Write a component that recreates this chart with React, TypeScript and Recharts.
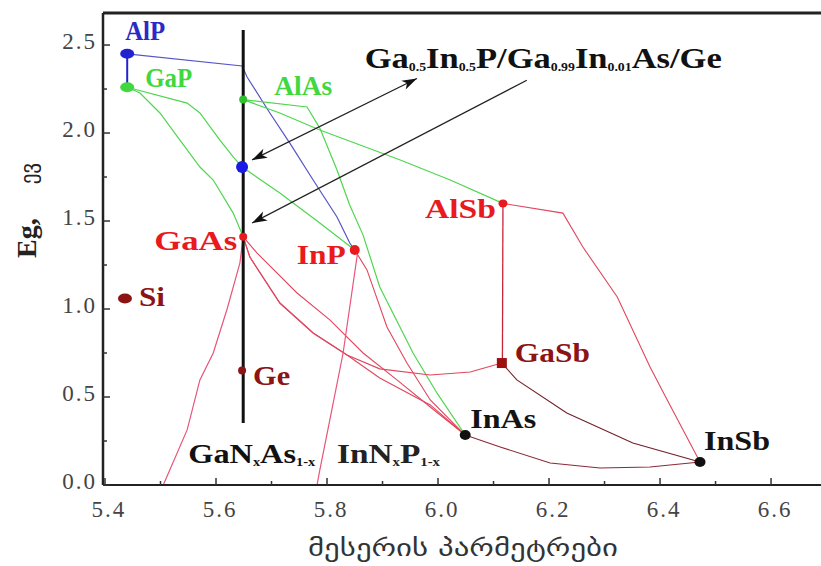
import React from "react";
import {
  ComposedChart,
  Line,
  Scatter,
  XAxis,
  YAxis,
  ReferenceLine,
  ReferenceDot,
  Label,
} from "recharts";

const SERIF = "'Liberation Serif', 'Times New Roman', serif";
const GEO = "'DejaVu Sans', 'Noto Sans', sans-serif";

// axis ranges: lattice constant (Å) and band gap (eV)
const X_MIN = 5.3964;
const X_MAX = 6.69;
const Y_MAX = 2.682;

const xTicks = [5.4, 5.5, 5.6, 5.7, 5.8, 5.9, 6.0, 6.1, 6.2, 6.3, 6.4, 6.5, 6.6];
const xLabelTicks = [5.4, 5.6, 5.8, 6.0, 6.2, 6.4, 6.6];
const yTicks = [0, 0.25, 0.5, 0.75, 1, 1.25, 1.5, 1.75, 2, 2.25, 2.5];
const yLabelTicks = [0, 0.5, 1, 1.5, 2, 2.5];

// binaries and elements
const compounds = ["AlP", "GaP", "AlAs", "GaAs", "InP", "AlSb", "GaSb", "InAs", "InSb", "Si", "Ge"];
const latticeConst = [5.44, 5.44, 5.649, 5.649, 5.85, 6.117, 6.115, 6.049, 6.472, 5.436, 5.647];
const bandGap = [2.45, 2.26, 2.19, 1.41, 1.335, 1.6, 0.693, 0.284, 0.131, 1.06, 0.65];

// Ga0.5In0.5P matched to GaAs / Ge
const matchedName = ["GaInP-m"];
const matchedLattice = [5.647];
const matchedGap = [1.807];

// ternary curves: [lattice constant, band gap]
const alGaP = [[5.44, 2.45], [5.44, 2.26]];
const alInP = [[5.44, 2.45], [5.647, 2.381], [5.656, 2.318], [5.697, 2.114], [5.733, 1.943], [5.775, 1.733], [5.818, 1.523], [5.841, 1.375], [5.85, 1.335]];
const gaInP = [[5.44, 2.26], [5.548, 2.17], [5.571, 2.114], [5.607, 1.96], [5.631, 1.864], [5.647, 1.807], [5.715, 1.659], [5.787, 1.489], [5.85, 1.335]];
const gaAsP = [[5.44, 2.26], [5.463, 2.227], [5.499, 2.114], [5.535, 1.96], [5.571, 1.807], [5.595, 1.733], [5.631, 1.545], [5.649, 1.41]];
const alAsSb = [[5.649, 2.19], [5.715, 2.114], [5.787, 2.017], [5.932, 1.847], [6.022, 1.733], [6.117, 1.6]];
const alInAs = [[5.649, 2.19], [5.764, 2.148], [5.787, 2.028], [5.818, 1.79], [5.841, 1.59], [5.865, 1.42], [5.895, 1.125], [5.955, 0.75], [5.998, 0.523], [6.049, 0.284]];
const gaAsSb = [[5.649, 1.41], [5.661, 1.295], [5.715, 1.034], [5.775, 0.864], [5.836, 0.739], [5.895, 0.66], [5.986, 0.625], [6.058, 0.642], [6.115, 0.693]];
const gaInAsLow = [[5.649, 1.41], [5.661, 1.295], [5.715, 1.034], [5.775, 0.864], [5.836, 0.739], [5.895, 0.608], [5.986, 0.455], [6.049, 0.284]];
const gaInAsHigh = [[5.649, 1.41], [5.674, 1.318], [5.746, 1.091], [5.805, 0.938], [5.865, 0.75], [5.926, 0.597], [5.986, 0.443], [6.049, 0.284]];
const inPAs = [[5.85, 1.335], [5.872, 1.222], [5.908, 0.898], [5.944, 0.693], [5.986, 0.483], [6.049, 0.284]];
const gaNAs = [[5.649, 1.41], [5.643, 1.261], [5.62, 1.0], [5.595, 0.75], [5.571, 0.597], [5.548, 0.313], [5.505, 0]];
const inNP = [[5.85, 1.335], [5.855, 1.318], [5.829, 0.75], [5.805, 0.369], [5.787, 0.085], [5.782, 0]];
const alInSb = [[6.117, 1.6], [6.225, 1.545], [6.261, 1.352], [6.323, 1.068], [6.382, 0.67], [6.413, 0.483], [6.472, 0.131]];
const alGaSb = [[6.117, 1.6], [6.116, 0.693]];
const gaInSb = [[6.115, 0.693], [6.142, 0.597], [6.232, 0.409], [6.351, 0.239], [6.472, 0.131]];
const inAsSb = [[6.049, 0.284], [6.112, 0.216], [6.202, 0.125], [6.292, 0.097], [6.382, 0.102], [6.472, 0.131]];

// vertical line at the GaAs/Ge lattice constant
const geLine = [[5.649, 0.352], [5.649, 2.585]];

// arrows to the cell layers: [from, to]
const arrowTop = [[5.962, 2.31], [5.665, 1.847]];
const arrowBottom = [[6.16, 2.3], [5.665, 1.489]];

// annotation anchors
const cellTextAt = [5.868, 2.369];
const gaNAsTextAt = [5.55, 0.125];
const inNPTextAt = [5.818, 0.125];

const BLUE = "#2222d0";
const BLUE_LINE = "#5555c8";
const GREEN = "#3fd83f";
const GREEN_LINE = "#4fd64f";
const RED = "#e81a1e";
const RED_LINE = "#e0465e";
const DARK_RED = "#8c1414";

const curves = [
  { id: "AlGaP", pts: alGaP, stroke: BLUE, w: 2 },
  { id: "AlInP", pts: alInP, stroke: BLUE_LINE, w: 1.2 },
  { id: "GaInP", pts: gaInP, stroke: GREEN_LINE, w: 1.2 },
  { id: "GaAsP", pts: gaAsP, stroke: GREEN_LINE, w: 1.2 },
  { id: "AlAsSb", pts: alAsSb, stroke: GREEN_LINE, w: 1.2 },
  { id: "AlInAs", pts: alInAs, stroke: GREEN_LINE, w: 1.2 },
  { id: "GaAsSb", pts: gaAsSb, stroke: RED_LINE, w: 1.1 },
  { id: "GaInAsLow", pts: gaInAsLow, stroke: RED_LINE, w: 1.1 },
  { id: "GaInAsHigh", pts: gaInAsHigh, stroke: RED_LINE, w: 1.1 },
  { id: "InPAs", pts: inPAs, stroke: RED_LINE, w: 1.1 },
  { id: "GaNAs", pts: gaNAs, stroke: "#e8557a", w: 1.2 },
  { id: "InNP", pts: inNP, stroke: "#e8557a", w: 1.2 },
  { id: "AlInSb", pts: alInSb, stroke: RED_LINE, w: 1.1 },
  { id: "AlGaSb", pts: alGaSb, stroke: "#c8243a", w: 1.3 },
  { id: "GaInSb", pts: gaInSb, stroke: "#702028", w: 1.1 },
  { id: "InAsSb", pts: inAsSb, stroke: "#8a2a36", w: 1.1 },
];

const toPts = (pairs: number[][]) => pairs.map(([x, y]) => ({ x, y }));

const compoundPts = compounds.map((name, i) => ({ name, x: latticeConst[i], y: bandGap[i] }));
const matchedPts = matchedName.map((name, i) => ({ name, x: matchedLattice[i], y: matchedGap[i] }));

const markStyle: Record<string, { fill: string; rx: number; ry: number; square?: boolean }> = {
  AlP: { fill: BLUE, rx: 7, ry: 5 },
  GaP: { fill: GREEN, rx: 7, ry: 5 },
  AlAs: { fill: "#2fbf2f", rx: 4, ry: 4 },
  GaAs: { fill: RED, rx: 4, ry: 4 },
  InP: { fill: RED, rx: 5, ry: 5 },
  AlSb: { fill: RED, rx: 4.5, ry: 4 },
  GaSb: { fill: "#9c1010", rx: 5, ry: 5, square: true },
  InAs: { fill: "#111", rx: 5.5, ry: 5 },
  InSb: { fill: "#111", rx: 5.5, ry: 5 },
  Si: { fill: DARK_RED, rx: 7, ry: 5 },
  Ge: { fill: DARK_RED, rx: 4, ry: 4 },
  "GaInP-m": { fill: "#1a1ae6", rx: 6, ry: 6 },
};

const labelStyle: Record<string, { color: string; anchor: "start" | "end"; dx: number; dy: number; w: number }> = {
  AlP: { color: "#2a2ac4", anchor: "start", dx: -2, dy: -14, w: 40 },
  GaP: { color: GREEN, anchor: "start", dx: 18, dy: 0, w: 47 },
  AlAs: { color: GREEN, anchor: "start", dx: 31, dy: -5, w: 58 },
  GaAs: { color: RED, anchor: "end", dx: -6, dy: 13, w: 83 },
  InP: { color: RED, anchor: "end", dx: -9, dy: 14, w: 49 },
  AlSb: { color: RED, anchor: "end", dx: -7, dy: 15, w: 71 },
  GaSb: { color: DARK_RED, anchor: "start", dx: 13, dy: -1, w: 75 },
  Si: { color: DARK_RED, anchor: "start", dx: 14, dy: 8, w: 26 },
  Ge: { color: DARK_RED, anchor: "start", dx: 11, dy: 14, w: 37 },
  InAs: { color: "#141414", anchor: "start", dx: 5, dy: -7, w: 66 },
  InSb: { color: "#141414", anchor: "start", dx: 4, dy: -12, w: 66 },
};

const near = (list: number[], v: number) => list.some((t) => Math.abs(t - v) < 1e-6);

const XTick = (props: any) => {
  const { x, y, payload } = props;
  const major = near(xLabelTicks, payload.value);
  return (
    <g>
      <line x1={x} y1={y} x2={x} y2={y - (major ? 7 : 4)} stroke="#333" strokeWidth={1.5} />
      {major && (
        <text x={x + 4} y={y + 32} textAnchor="middle" fontFamily={SERIF} fontSize={23} fill="#444" letterSpacing={2}>
          {payload.value.toFixed(1)}
        </text>
      )}
    </g>
  );
};

const YTick = (props: any) => {
  const { x, y, payload } = props;
  const major = near(yLabelTicks, payload.value);
  return (
    <g>
      <line x1={x} y1={y} x2={x + (major ? 7 : 4)} y2={y} stroke="#333" strokeWidth={1.5} />
      {major && (
        <text x={x - 6} y={y + 4} textAnchor="end" fontFamily={SERIF} fontSize={23} fill="#444" letterSpacing={2}>
          {payload.value.toFixed(1)}
        </text>
      )}
    </g>
  );
};

const CompoundMark = (p: any) => {
  const { cx, cy, payload } = p;
  const m = markStyle[payload.name];
  const l = labelStyle[payload.name];
  return (
    <g>
      {m.square ? (
        <rect x={cx - m.rx} y={cy - m.ry} width={2 * m.rx} height={2 * m.ry} fill={m.fill} />
      ) : (
        <ellipse cx={cx} cy={cy} rx={m.rx} ry={m.ry} fill={m.fill} />
      )}
      {l && (
        <text
          x={cx + l.dx}
          y={cy + l.dy}
          textAnchor={l.anchor}
          fill={l.color}
          fontFamily={SERIF}
          fontWeight="bold"
          fontSize={28}
          textLength={l.w}
          lengthAdjust="spacingAndGlyphs"
        >
          {payload.name}
        </text>
      )}
    </g>
  );
};

// text with subscripts, pieces flagged 1 are lowered and shrunk
const subText = (parts: [string, number][], size: number, sub: number, fill: string, width: number) => (p: any) => {
  let shift = 0;
  return (
    <text
      x={p.cx}
      y={p.cy}
      fontFamily={SERIF}
      fontWeight="bold"
      fontSize={size}
      fill={fill}
      textLength={width}
      lengthAdjust="spacingAndGlyphs"
    >
      {parts.map(([t, isSub], i) => {
        const target = isSub ? 3 : 0;
        const dy = target - shift;
        shift = target;
        return (
          <tspan key={i} dy={dy} fontSize={isSub ? sub : size}>
            {t}
          </tspan>
        );
      })}
    </text>
  );
};

const arrowHead = (x: number, y: number, fx: number, fy: number) => {
  const ang = Math.atan2(y - fy, x - fx);
  const len = 15;
  const half = 5;
  const bx = x - len * Math.cos(ang);
  const by = y - len * Math.sin(ang);
  const px = -Math.sin(ang) * half;
  const py = Math.cos(ang) * half;
  return `${x},${y} ${bx + px},${by + py} ${bx + 4 * Math.cos(ang)},${by + 4 * Math.sin(ang)} ${bx - px},${by - py}`;
};

const makeArrow = (bothEnds: boolean) => (p: any) => {
  const { x1, y1, x2, y2 } = p;
  return (
    <g>
      <line x1={x1} y1={y1} x2={x2} y2={y2} stroke="#222" strokeWidth={1.3} />
      <polygon points={arrowHead(x2, y2, x1, y1)} fill="#111" />
      {bothEnds && <polygon points={arrowHead(x1, y1, x2, y2)} fill="#111" />}
    </g>
  );
};

export default function App() {
  return (
    <div style={{ position: "absolute", left: 0, top: 0, background: "#fff" }}>
      <ComposedChart width={821} height={566} margin={{ top: 13, right: 0, bottom: 0, left: 0 }}>
        <XAxis
          type="number"
          dataKey="x"
          domain={[X_MIN, X_MAX]}
          allowDataOverflow
          ticks={xTicks}
          interval={0}
          tick={<XTick />}
          tickLine={false}
          tickSize={0}
          tickMargin={0}
          height={81}
          axisLine={{ stroke: "#222", strokeWidth: 2 }}
        >
          <Label
            content={(props: any) => {
              const vb = props.viewBox;
              return (
                <text
                  x={vb.x + vb.width / 2 + 1}
                  y={vb.y + 71}
                  textAnchor="middle"
                  fontFamily={GEO}
                  fontSize={23}
                  fill="#333"
                  textLength={310}
                  lengthAdjust="spacingAndGlyphs"
                >
                  მესერის პარმეტრები
                </text>
              );
            }}
          />
        </XAxis>
        <YAxis
          type="number"
          dataKey="y"
          domain={[0, Y_MAX]}
          allowDataOverflow
          ticks={yTicks}
          interval={0}
          tick={<YTick />}
          tickLine={false}
          tickSize={0}
          tickMargin={0}
          width={103}
          axisLine={{ stroke: "#222", strokeWidth: 2.5 }}
        >
          <Label
            content={() => (
              <text transform="translate(36, 258) rotate(-90)" x={0} y={0} fill="#222">
                <tspan fontFamily={SERIF} fontWeight="bold" fontSize={28}>
                  Eg,
                </tspan>
                <tspan dx={34} fontFamily={GEO} fontSize={21}>
                  ევ
                </tspan>
              </text>
            )}
          />
        </YAxis>

        <ReferenceLine y={Y_MAX} stroke="#222" strokeWidth={3} />

        {curves.map((c) => (
          <Line
            key={c.id}
            data={toPts(c.pts)}
            dataKey="y"
            type="linear"
            stroke={c.stroke}
            strokeWidth={c.w}
            dot={false}
            activeDot={false}
            isAnimationActive={false}
          />
        ))}

        <ReferenceLine segment={toPts(geLine)} stroke="#111" strokeWidth={3} />
        <ReferenceLine segment={toPts(arrowTop)} shape={makeArrow(true)} />
        <ReferenceLine segment={toPts(arrowBottom)} shape={makeArrow(false)} />

        <Scatter data={matchedPts} shape={CompoundMark} isAnimationActive={false} />
        <Scatter data={compoundPts} shape={CompoundMark} isAnimationActive={false} />

        <ReferenceDot
          x={cellTextAt[0]}
          y={cellTextAt[1]}
          r={0}
          shape={subText(
            [["Ga", 0], ["0.5", 1], ["In", 0], ["0.5", 1], ["P/Ga", 0], ["0.99", 1], ["In", 0], ["0.01", 1], ["As/Ge", 0]],
            30,
            12,
            "#111",
            357
          )}
        />
        <ReferenceDot
          x={gaNAsTextAt[0]}
          y={gaNAsTextAt[1]}
          r={0}
          shape={subText([["GaN", 0], ["x", 1], ["As", 0], ["1-x", 1]], 27, 12, "#111", 127)}
        />
        <ReferenceDot
          x={inNPTextAt[0]}
          y={inNPTextAt[1]}
          r={0}
          shape={subText([["InN", 0], ["x", 1], ["P", 0], ["1-x", 1]], 27, 12, "#222", 103)}
        />
      </ComposedChart>
    </div>
  );
}
